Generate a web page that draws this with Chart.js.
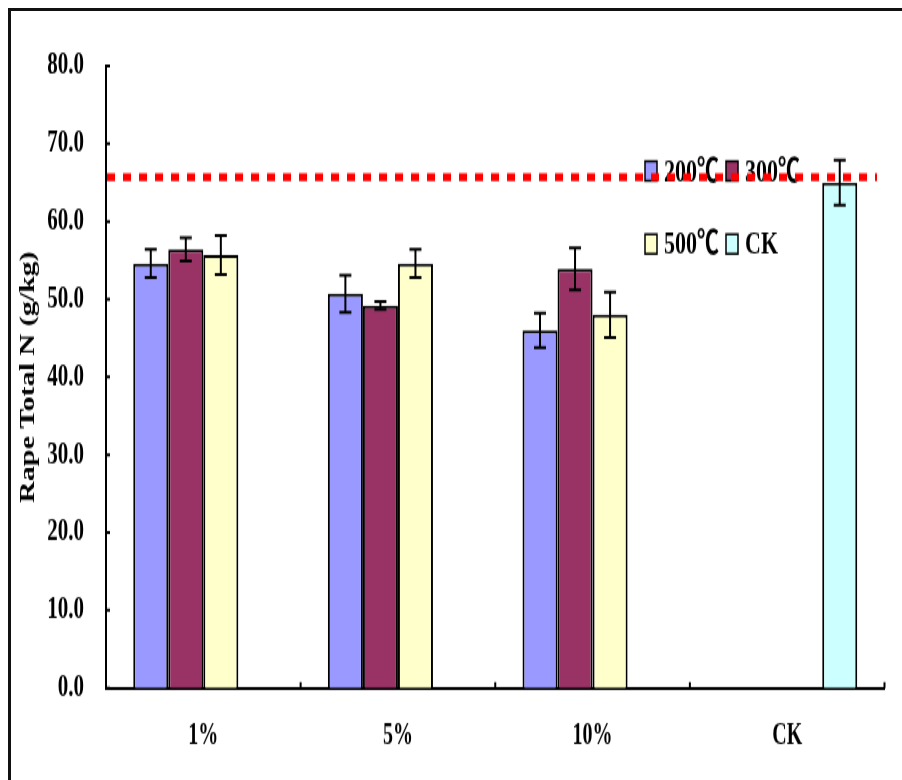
<!DOCTYPE html>
<html>
<head>
<meta charset="utf-8">
<title>Rape Total N</title>
<script src="https://cdn.jsdelivr.net/npm/chart.js@4.4.1/dist/chart.umd.min.js"></script>
<style>
  html, body { margin: 0; padding: 0; background: #fff; overflow: hidden; }
  #frame { position: absolute; left: 8px; top: 8px; width: 1000px; height: 1000px;
           border-left: 3px solid #111; border-top: 3px solid #111; }
  #stretch { position: absolute; left: 0; top: 0; width: 902px; height: 520px;
             transform: scaleY(1.5); transform-origin: 0 0; }
</style>
</head>
<body>
<div id="frame"></div>
<div id="stretch"><canvas id="myChart" width="902" height="520"></canvas></div>
<script>
var categories = ['1%', '5%', '10%', 'CK'];
var seriesNames = ['200\u2103', '300\u2103', '500\u2103', 'CK'];
var n200 = [54.6, 50.7, 46.0, null];
var n300 = [56.4, 49.2, 53.9, null];
var n500 = [55.7, 54.6, 48.0, null];
var nCK = [null, null, null, 65.0];
var err200 = [1.8, 2.4, 2.2, null];
var err300 = [1.5, 0.5, 2.7, null];
var err500 = [2.5, 1.8, 2.9, null];
var errCK = [null, null, null, 2.9];
var yTicks = [0, 10, 20, 30, 40, 50, 60, 70, 80];
var ckLevel = 65.7;

var colors = ['#9999FF', '#993366', '#FFFFCC', '#CCFFFF'];
var serif = "'Liberation Serif', 'Times New Roman', 'Noto Sans CJK SC', serif";

document.addEventListener('DOMContentLoaded', function(){
    Chart.defaults.font.family = serif;
    Chart.defaults.font.weight = 'bold';
    Chart.defaults.color = '#000';

    var values = [n200, n300, n500, nCK];
    var errors = [err200, err300, err500, errCK];

    var data = {
        labels: categories,
        datasets: values.map(function(v, i){
            return {
                label: seriesNames[i],
                data: v,
                errors: errors[i],
                backgroundColor: colors[i],
                borderColor: '#000',
                borderWidth: 2,
                borderSkipped: 'bottom',
                categoryPercentage: 0.72,
                barPercentage: 1.0
            };
        })
    };

    // error bars, drawn from each bar's own position
    var errorBars = {
        id: 'errorBars',
        afterDatasetsDraw: function(chart){
            var ctx = chart.ctx, y = chart.scales.y;
            ctx.save();
            ctx.strokeStyle = '#000';
            ctx.lineWidth = 2;
            chart.data.datasets.forEach(function(ds, i){
                chart.getDatasetMeta(i).data.forEach(function(bar, j){
                    var v = ds.data[j], e = ds.errors[j];
                    if (v == null || e == null) return;
                    var top = y.getPixelForValue(v + e), bot = y.getPixelForValue(v - e);
                    ctx.beginPath();
                    ctx.moveTo(bar.x, top); ctx.lineTo(bar.x, bot);
                    ctx.moveTo(bar.x - 6, top); ctx.lineTo(bar.x + 6, top);
                    ctx.moveTo(bar.x - 6, bot); ctx.lineTo(bar.x + 6, bot);
                    ctx.stroke();
                });
            });
            ctx.restore();
        }
    };

    // small inward tick marks on both axes
    var innerTicks = {
        id: 'innerTicks',
        afterDraw: function(chart){
            var ctx = chart.ctx, xs = chart.scales.x, ys = chart.scales.y, a = chart.chartArea;
            ctx.save();
            ctx.strokeStyle = '#000';
            ctx.lineWidth = 2;
            ctx.beginPath();
            yTicks.forEach(function(t){
                var py = ys.getPixelForValue(t);
                ctx.moveTo(a.left, py); ctx.lineTo(a.left + 4, py);
            });
            for (var i = 0; i <= categories.length; i++) {
                var px = xs.getPixelForValue(i - 0.5);
                ctx.moveTo(px, a.bottom); ctx.lineTo(px, a.bottom - 4);
            }
            ctx.stroke();
            ctx.restore();
        }
    };

    // legend in two rows inside the plot, then the dotted CK level on top
    var legendAndLevel = {
        id: 'legendAndLevel',
        afterDraw: function(chart){
            var ctx = chart.ctx, ys = chart.scales.y, a = chart.chartArea;
            var cols = [645, 726], rows = [114, 162.7];
            ctx.save();
            ctx.font = 'bold 22px ' + serif;
            ctx.textBaseline = 'middle';
            ctx.textAlign = 'left';
            seriesNames.forEach(function(name, i){
                var cx = cols[i % 2], cy = rows[Math.floor(i / 2)];
                ctx.fillStyle = colors[i];
                ctx.fillRect(cx, cy - 6.5, 12, 13);
                ctx.strokeStyle = '#000';
                ctx.lineWidth = 1.5;
                ctx.strokeRect(cx, cy - 6.5, 12, 13);
                ctx.fillStyle = '#000';
                ctx.fillText(name, cx + 19, cy + 1);
            });

            var ly = ys.getPixelForValue(ckLevel);
            ctx.strokeStyle = '#FF0000';
            ctx.lineWidth = 5.3;
            ctx.setLineDash([8, 8]);
            ctx.beginPath();
            ctx.moveTo(a.left + 1, ly);
            ctx.lineTo(877, ly);
            ctx.stroke();
            ctx.restore();
        }
    };

    var options = {
        responsive: false,
        animation: false,
        devicePixelRatio: 1,
        layout: { padding: { top: 44, left: 8, right: 17.5, bottom: 0 } },
        plugins: {
            legend: { display: false },
            tooltip: { enabled: false }
        },
        scales: {
            x: {
                grid: { display: false, drawTicks: false },
                border: { display: true, color: '#000', width: 2 },
                ticks: { padding: 20.5, font: { size: 20, weight: 'bold' } },
                afterFit: function(scale){ scale.height = 61.33; }
            },
            y: {
                min: 0,
                max: 80,
                grid: { display: false, drawTicks: false },
                border: { display: true, color: '#000', width: 2 },
                ticks: {
                    stepSize: 10,
                    padding: 22,
                    font: { size: 21, weight: 'bold' },
                    callback: function(v){ return v.toFixed(1); }
                },
                title: {
                    display: true,
                    text: 'Rape Total N (g/kg)',
                    font: { size: 20, weight: 'bold' },
                    padding: { top: 9, bottom: 0 }
                },
                afterFit: function(scale){ scale.width = 98; }
            }
        }
    };

    var ctx = document.getElementById('myChart').getContext('2d');
    new Chart(ctx, {
        type: 'bar',
        data: data,
        options: options,
        plugins: [errorBars, innerTicks, legendAndLevel]
    });
});
</script>
</body>
</html>
